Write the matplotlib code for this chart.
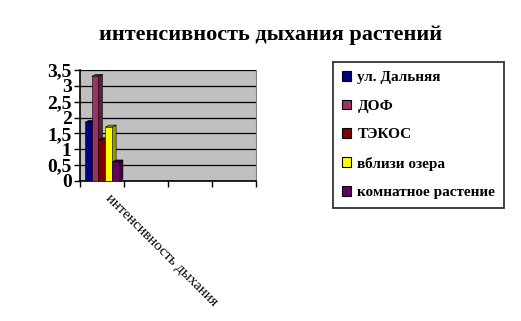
import matplotlib
matplotlib.use("Agg")
import matplotlib.pyplot as plt
from matplotlib.patches import Patch, Polygon
from matplotlib.transforms import ScaledTranslation

plt.rcParams['font.family'] = ['Liberation Serif', 'DejaVu Serif']

categories = ["интенсивность дыхания", "", "", ""]
series = ["ул. Дальняя", "ДОФ", "ТЭКОС", "вблизи озера", "комнатное растение"]
values = [1.85, 3.3, 1.3, 1.7, 0.6]
front_colors = ["#000080", "#993366", "#800000", "#FFFF00", "#660066"]
side_colors = ["#000050", "#5c1f3d", "#4d0000", "#999900", "#330033"]
y_ticks = [0, 0.5, 1, 1.5, 2, 2.5, 3, 3.5]

W, H, DPI = 521, 321, 100
fig = plt.figure(figsize=(W / DPI, H / DPI), dpi=DPI)
ax = fig.add_axes([80 / W, 1 - 181 / H, 176 / W, 111 / H])
ax.set_facecolor("#c0c0c0")
ax.set_xlim(0, len(categories))
ax.set_ylim(0, 3.5)

# pseudo 3D depth, pixels converted to data units
depth_x = 4 / (176 / len(categories))
depth_y = 2 / (111 / 3.5)

bar_w = 0.155
start = 0.11
for i, (name, v) in enumerate(zip(series, values)):
    x0 = start + i * bar_w
    x1 = x0 + bar_w
    side = Polygon([(x1, 0), (x1, v), (x1 + depth_x, v + depth_y), (x1 + depth_x, depth_y)],
                   closed=True, facecolor=side_colors[i], edgecolor="black", lw=0.4, zorder=3 + i)
    top = Polygon([(x0, v), (x1, v), (x1 + depth_x, v + depth_y), (x0 + depth_x, v + depth_y)],
                  closed=True, facecolor=side_colors[i], edgecolor="black", lw=0.4, zorder=3 + i)
    ax.add_patch(side)
    ax.add_patch(top)
    ax.bar(x0, v, width=bar_w, align="edge", color=front_colors[i],
           edgecolor="black", lw=0.4, zorder=3 + i)

ax.set_yticks(y_ticks)
ax.set_yticklabels([("%g" % t).replace(".", ",") for t in y_ticks],
                   fontsize=14, fontweight="bold")
ax.yaxis.grid(True, color="black", lw=0.9)
ax.set_axisbelow(True)
ax.tick_params(axis="y", length=4, width=1, pad=2)

ax.set_xticks([i + 0.5 for i in range(len(categories))])
ax.set_xticklabels(categories, rotation=-45, ha="left", va="top",
                   rotation_mode="anchor", fontsize=10.8)
ax.tick_params(axis="x", which="major", length=0, pad=8)
shift = ScaledTranslation(10 / DPI, 0, fig.dpi_scale_trans)
for lbl in ax.get_xticklabels():
    lbl.set_transform(lbl.get_transform() + shift)
ax.set_xticks(range(len(categories) + 1), minor=True)
ax.tick_params(axis="x", which="minor", length=4, width=1)

ax.spines["top"].set_visible(False)
ax.spines["right"].set_color("#808080")
ax.spines["left"].set_linewidth(1.2)
ax.spines["bottom"].set_linewidth(1.2)

fig.text(271 / W, 1 - 35 / H, "интенсивность дыхания растений",
         ha="center", va="center", fontsize=16, fontweight="bold")

handles = [Patch(facecolor=c, edgecolor="black", lw=0.8) for c in front_colors]
leg = fig.legend(handles, series, loc="upper left",
                 bbox_to_anchor=(333 / W, 1 - 62 / H),
                 frameon=True, fancybox=False, edgecolor="black",
                 prop={"weight": "bold", "size": 11},
                 handlelength=0.6, handleheight=0.6, handletextpad=0.4,
                 labelspacing=1.0, borderpad=0.6, borderaxespad=0)
leg.get_frame().set_linewidth(1.3)

fig.savefig("out.png", dpi=DPI)
